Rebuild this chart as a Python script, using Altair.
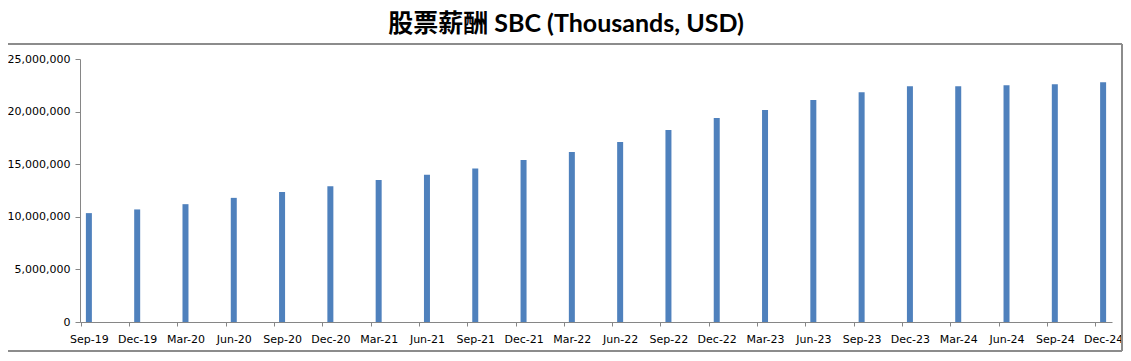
import altair as alt
import pandas as pd

quarters = ["Sep-19", "Dec-19", "Mar-20", "Jun-20", "Sep-20", "Dec-20", "Mar-21", "Jun-21",
            "Sep-21", "Dec-21", "Mar-22", "Jun-22", "Sep-22", "Dec-22", "Mar-23", "Jun-23",
            "Sep-23", "Dec-23", "Mar-24", "Jun-24", "Sep-24", "Dec-24"]
sbc = [10350000, 10700000, 11200000, 11800000, 12350000, 12900000, 13500000, 14000000,
       14600000, 15400000, 16150000, 17100000, 18250000, 19400000, 20150000, 21100000,
       21850000, 22400000, 22400000, 22500000, 22600000, 22800000]
y_ticks = [0, 5000000, 10000000, 15000000, 20000000, 25000000]

df = pd.DataFrame({"Quarter": quarters, "SBC": sbc})

W, H = 1032, 263
AXIS_COLOR = "#868686"
FRAME_COLOR = "#8c8c8c"

bars = alt.Chart(df).mark_bar(size=6, color="#4F81BD").encode(
    x=alt.X("Quarter:O", sort=quarters,
            scale=alt.Scale(type="point", padding=0.184),
            axis=alt.Axis(title=None, labelAngle=0, tickOffset=-8, labelOffset=8,
                          domainColor=AXIS_COLOR, tickColor=AXIS_COLOR, tickSize=4,
                          labelPadding=7, labelFont="DejaVu Sans", labelFontSize=11,
                          labelColor="#000000", grid=False)),
    y=alt.Y("SBC:Q", scale=alt.Scale(domain=[0, 25000000], nice=False),
            axis=alt.Axis(title=None, values=y_ticks,
                          labelExpr="format(datum.value, ',')",
                          domainColor=AXIS_COLOR,
                          tickColor=AXIS_COLOR, tickSize=5, labelPadding=5,
                          labelFont="DejaVu Sans", labelFontSize=11, labelColor="#000000",
                          grid=False)),
)

frame_top = alt.Chart(df).mark_rule(color=FRAME_COLOR, strokeWidth=1.5).encode(
    x=alt.value(-80), x2=alt.value(W + 10), y=alt.value(-15))
frame_right = alt.Chart(df).mark_rule(color=FRAME_COLOR, strokeWidth=1.5).encode(
    x=alt.value(W + 10), y=alt.value(-15), y2=alt.value(H + 29))
frame_bottom = alt.Chart(df).mark_rule(color=FRAME_COLOR, strokeWidth=1.5).encode(
    x=alt.value(-80), x2=alt.value(W + 10), y=alt.value(H + 29))

chart = alt.layer(bars, frame_top, frame_right, frame_bottom).properties(
    width=W, height=H,
    autosize=alt.AutoSizeParams(type="none"),
    padding={"left": 72, "top": 51, "right": 11, "bottom": 31},
    title=alt.TitleParams("股票薪酬 SBC (Thousands, USD)", font="Lato, Noto Sans CJK SC",
                          fontSize=25, fontWeight="bold", color="#000000",
                          anchor="middle", dx=-30, offset=6),
).configure(background="white").configure_view(stroke=None)

chart.save("out.html", embed_options={"renderer": "svg", "actions": False})
